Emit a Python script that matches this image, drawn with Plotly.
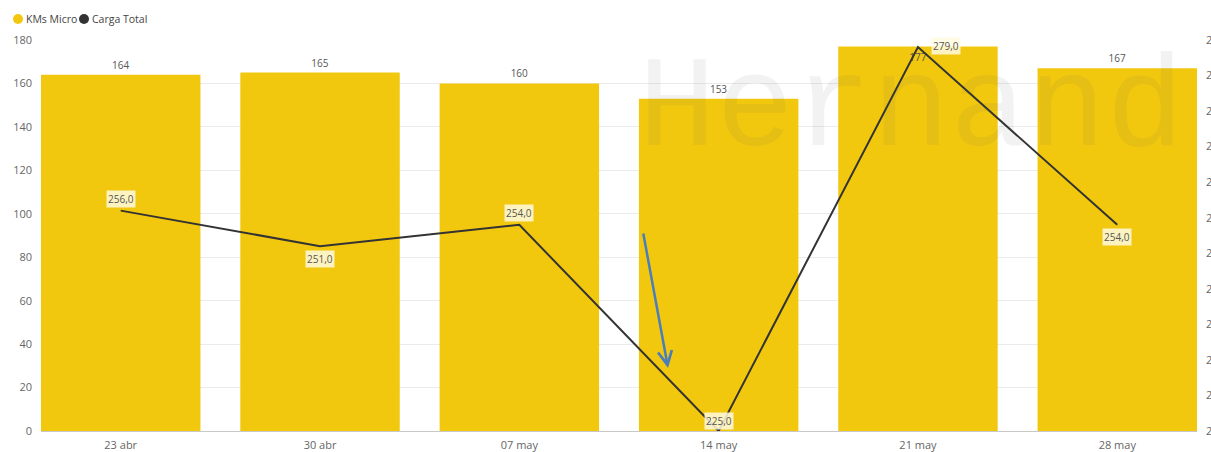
import plotly.graph_objects as go

# Weekly data
semanas = ["23 abr", "30 abr", "07 may", "14 may", "21 may", "28 may"]
kms_micro = [164, 165, 160, 153, 177, 167]
carga_total = [256.0, 251.0, 254.0, 225.0, 279.0, 254.0]

# where each line label sits relative to its point (x px, y px)
label_shift = [(0, 12), (0, -13), (0, 12), (0, 10), (28, 1), (0, -12)]

AMARILLO = "#F2C80F"
LINEA = "#333333"
TEXTO = "#666666"
FONT = "Segoe UI, Open Sans, Noto Sans, sans-serif"

fig = go.Figure()

bar_pos = ["outside" if v != max(kms_micro) else "inside" for v in kms_micro]
fig.add_trace(go.Bar(
    x=semanas, y=kms_micro, name="KMs Micro",
    marker=dict(color=AMARILLO, line=dict(width=0)),
    text=[str(v) for v in kms_micro],
    textposition=bar_pos,
    insidetextanchor="end",
    constraintext="none",
    textfont=dict(size=10, color="#555555", family=FONT),
    cliponaxis=False,
    yaxis="y",
))

fig.add_trace(go.Scatter(
    x=semanas, y=carga_total, name="Carga Total",
    mode="lines",
    line=dict(color=LINEA, width=2),
    yaxis="y2",
    cliponaxis=False,
))

annotations = []
for s, v, (dx, dy) in zip(semanas, carga_total, label_shift):
    annotations.append(dict(
        x=s, y=v, xref="x", yref="y2",
        text=f"{v:.1f}".replace(".", ","),
        showarrow=False, xshift=dx, yshift=dy,
        font=dict(size=10, color="#555555", family=FONT),
        bgcolor="rgba(255,250,225,0.85)",
        borderpad=1,
    ))

# compact legend above the plot: round key + series name
shapes = []
for (nombre, color), key_x in zip(
        [(fig.data[0].name, AMARILLO), (fig.data[1].name, LINEA)], [-23, 43]):
    shapes.append(dict(
        type="circle", xref="paper", yref="paper",
        xsizemode="pixel", ysizemode="pixel", xanchor=0, yanchor=1,
        x0=key_x - 5, x1=key_x + 5, y0=16, y1=26,
        fillcolor=color, line=dict(width=0),
    ))
    annotations.append(dict(
        x=0, y=1, xref="paper", yref="paper",
        xshift=key_x + 6, yshift=21,
        text=nombre, showarrow=False,
        xanchor="left", yanchor="middle",
        font=dict(size=10.5, color="#444444", family=FONT),
    ))

# faint background watermark
annotations.append(dict(
    x=0.80, y=0.82, xref="paper", yref="paper",
    text="Hernand", showarrow=False,
    font=dict(size=130, color="rgba(90,90,90,0.08)", family="Liberation Mono"),
    xanchor="left", yanchor="middle", xshift=-330,
))

# highlight arrow pointing to the low week
annotations.append(dict(
    x=2.746, y=29, xref="x", yref="y",
    ax=-25, ay=-136, axref="pixel", ayref="pixel",
    text="", showarrow=True,
    arrowhead=5, arrowsize=1.1, arrowwidth=2.5,
    arrowcolor="#4A7EBB",
))

fig.update_layout(
    width=1211, height=452,
    margin=dict(l=41, r=14, t=40, b=21, autoexpand=False),
    paper_bgcolor="white", plot_bgcolor="white",
    font=dict(family=FONT, size=11, color=TEXTO),
    bargap=0.2,
    showlegend=False,
    xaxis=dict(
        type="category", range=[-0.4, 5.4],
        showgrid=False, showline=True, linecolor="#C8C8C8", linewidth=1,
        ticks="", tickfont=dict(size=11, color=TEXTO),
        ticklabelstandoff=4, automargin=False,
    ),
    yaxis=dict(
        range=[0, 180], dtick=20, tick0=0,
        showgrid=True, gridcolor="#EBEBEB", gridwidth=1,
        zeroline=False, showline=False, ticks="",
        tickfont=dict(size=11, color=TEXTO),
        ticklabelstandoff=8, automargin=False,
    ),
    yaxis2=dict(
        overlaying="y", side="right", range=[225, 280], dtick=5, tick0=225,
        showgrid=False, zeroline=False, showline=False, ticks="",
        tickfont=dict(size=11, color=TEXTO),
        ticklabelstandoff=8, automargin=False,
    ),
    shapes=shapes,
    annotations=annotations,
)

fig.write_html("out.html")
